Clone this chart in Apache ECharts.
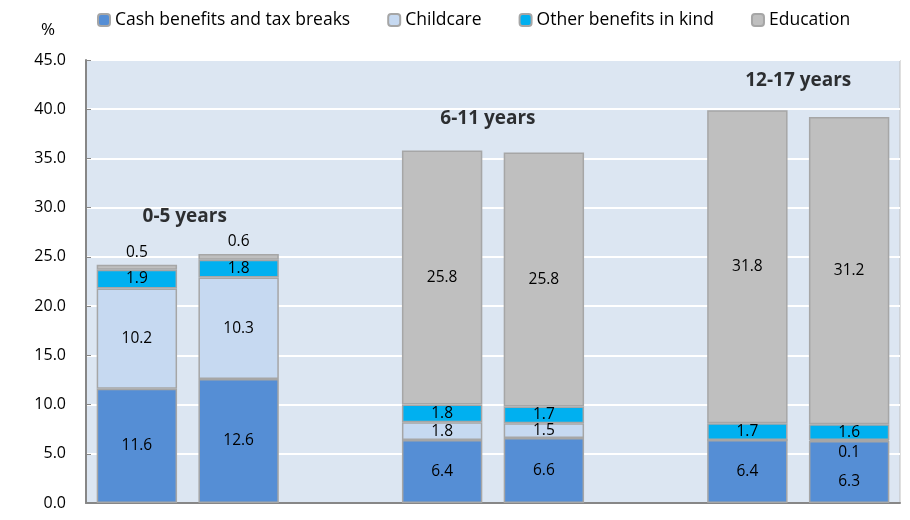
<!DOCTYPE html>
<html><head><meta charset="utf-8">
<script src="https://cdn.jsdelivr.net/npm/echarts@6/dist/echarts.min.js"></script>
<style>html,body{margin:0;padding:0;background:#fff}#c{width:910px;height:520px}</style>
</head><body><div id="c"></div>
<script>
var categories = ['0-5 a','0-5 b','','6-11 a','6-11 b','','12-17 a','12-17 b'];
var cash      = [11.6, 12.6, null, 6.4, 6.6, null, 6.4, 6.3];
var childcare = [10.2, 10.3, null, 1.8, 1.5, null, 0.0, 0.1];
var other     = [1.9, 1.8, null, 1.8, 1.7, null, 1.7, 1.6];
var education = [0.5, 0.6, null, 25.8, 25.8, null, 31.8, 31.2];
var groupLabels = ['0-5 years', '6-11 years', '12-17 years'];
var groupLabelX = [0.97, 3.95, 7.0];
var groupLabelY = [29.1, 39.0, 42.9];
var yTicks = [0, 5, 10, 15, 20, 25, 30, 35, 40, 45];

var FONT = 'Open Sans';
var chart = echarts.init(document.getElementById('c'));

function mk(arr, opts) {
  return arr.map(function (v, i) {
    if (v === null) return null;
    var d = { value: v };
    if (opts && opts[i]) d.label = opts[i];
    if (v === 0) d.label = { show: false };
    return d;
  });
}
var lbl = { show: true, color: '#000', fontFamily: FONT, fontSize: 15.5,
  formatter: function (p) { return p.value.toFixed(1); } };
var border = { borderColor: '#A6A6A6', borderWidth: 1.5 };

chart.setOption({
  animation: false,
  grid: { left: 86, right: 10, top: 60, bottom: 17, show: true,
    backgroundColor: '#DCE6F2', borderColor: '#BFBFBF', borderWidth: 1 },
  legend: {
    top: 6, left: 92, itemWidth: 12, itemHeight: 12, itemGap: 37,
    textStyle: { fontFamily: FONT, fontSize: 17.5, color: '#000' },
    data: ['Cash benefits and tax breaks', 'Childcare', 'Other benefits in kind', 'Education']
  },
  graphic: [{ type: 'text', left: 41, top: 22,
    style: { text: '%', fontFamily: FONT, fontSize: 17, fill: '#000' } }],
  xAxis: [{
    type: 'category', data: categories,
    axisLine: { lineStyle: { color: '#878787', width: 2 } },
    axisTick: { show: false }, axisLabel: { show: false }
  }, {
    type: 'value', min: 0, max: 8, show: false
  }],
  yAxis: {
    type: 'value', min: 0, max: 45, interval: 5,
    axisLine: { show: true, lineStyle: { color: '#878787', width: 2 } },
    axisTick: { show: true, inside: true, length: 5, lineStyle: { color: '#878787' } },
    splitLine: { lineStyle: { color: '#FFFFFF', width: 2 } },
    axisLabel: { fontFamily: FONT, fontSize: 16, color: '#000', margin: 20,
      formatter: function (v) { return yTicks.indexOf(v) >= 0 ? v.toFixed(1) : ''; } }
  },
  series: [{
    name: 'Cash benefits and tax breaks', type: 'bar', stack: 's', barCategoryGap: '21%',
    itemStyle: Object.assign({ color: '#558ED5' }, border),
    label: lbl,
    data: mk(cash, { 7: { offset: [0, 10] } })
  }, {
    name: 'Childcare', type: 'bar', stack: 's',
    itemStyle: Object.assign({ color: '#C6D9F1' }, border),
    label: lbl,
    data: mk(childcare, { 7: { offset: [0, 12] } })
  }, {
    name: 'Other benefits in kind', type: 'bar', stack: 's',
    itemStyle: Object.assign({ color: '#00B0F0' }, border),
    label: lbl,
    data: mk(other)
  }, {
    name: 'Education', type: 'bar', stack: 's',
    itemStyle: Object.assign({ color: '#BFBFBF' }, border),
    label: lbl,
    data: mk(education, { 0: { position: 'top', distance: 4 }, 1: { position: 'top', distance: 4 } })
  }, {
    type: 'scatter', xAxisIndex: 1, symbolSize: 0, silent: true,
    data: groupLabels.map(function (t, i) { return { value: [groupLabelX[i], groupLabelY[i]], name: t }; }),
    label: { show: true, position: 'inside', formatter: '{b}', color: '#000',
      fontFamily: FONT, fontSize: 19, fontWeight: 'bold' }
  }]
});
</script></body></html>
